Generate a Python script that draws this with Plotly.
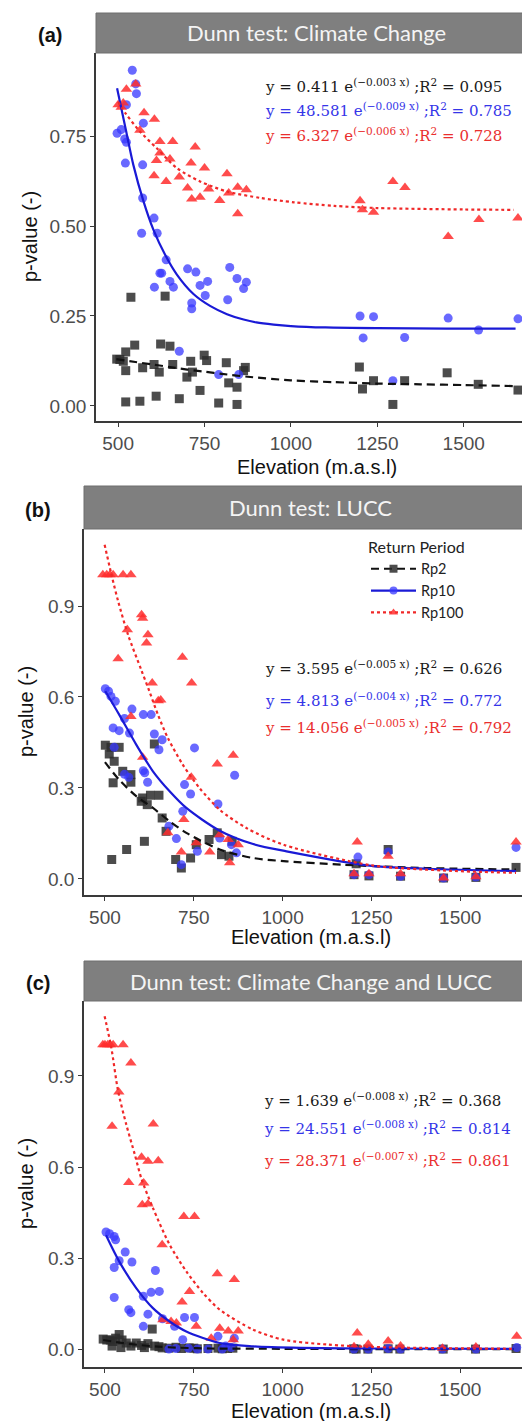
import plotly.graph_objects as go

W, H = 530, 1421

# ---------------- DATA ----------------
x_ticks = [500, 750, 1000, 1250, 1500]
x_tick_text = ["500", "750", "1000", "1250", "1500"]
y_ticks_a = [0, 0.25, 0.5, 0.75]
y_tick_text_a = ["0.00", "0.25", "0.50", "0.75"]
y_ticks_bc = [0, 0.3, 0.6, 0.9]
y_tick_text_bc = ["0.0", "0.3", "0.6", "0.9"]

panel_titles = ["Dunn test: Climate Change", "Dunn test: LUCC", "Dunn test: Climate Change and LUCC"]
panel_labels = ["(a)", "(b)", "(c)"]
series_names = ["Rp2", "Rp10", "Rp100"]

eq_a = ["y = 0.411 e<sup>(\u22120.003 x)</sup> ;R<sup>2</sup> = 0.095",
        "y = 48.581 e<sup>(\u22120.009 x)</sup> ;R<sup>2</sup> = 0.785",
        "y = 6.327 e<sup>(\u22120.006 x)</sup> ;R<sup>2</sup> = 0.728"]
eq_b = ["y = 3.595 e<sup>(\u22120.005 x)</sup> ;R<sup>2</sup> = 0.626",
        "y = 4.813 e<sup>(\u22120.004 x)</sup> ;R<sup>2</sup> = 0.772",
        "y = 14.056 e<sup>(\u22120.005 x)</sup> ;R<sup>2</sup> = 0.792"]
eq_c = ["y = 1.639 e<sup>(\u22120.008 x)</sup> ;R<sup>2</sup> = 0.368",
        "y = 24.551 e<sup>(\u22120.008 x)</sup> ;R<sup>2</sup> = 0.814",
        "y = 28.371 e<sup>(\u22120.007 x)</sup> ;R<sup>2</sup> = 0.861"]

# Panel (a) points
a_rp2_x = [537, 636, 548, 522, 505, 515, 496, 522, 571, 604, 619, 623, 650, 658, 710, 699, 715, 749, 756, 813,
           820, 844, 868, 863, 737, 522, 563, 610, 677, 791, 844, 1198, 1207, 1239, 1295, 1329, 1452, 1542, 1657]
a_rp2_y = [0.302, 0.305, 0.169, 0.150, 0.129, 0.124, 0.130, 0.098, 0.106, 0.115, 0.094, 0.172, 0.166, 0.115, 0.124,
           0.080, 0.094, 0.141, 0.126, 0.120, 0.064, 0.052, 0.107, 0.098, 0.043, 0.011, 0.013, 0.027, 0.020, 0.008,
           0.004, 0.108, 0.047, 0.070, 0.004, 0.070, 0.092, 0.060, 0.044]
a_rp10_x = [541, 551, 553, 524, 573, 497, 509, 519, 524, 521, 571, 571, 604, 568, 613, 639, 621, 626, 650, 660,
            605, 701, 725, 759, 737, 752, 713, 713, 823, 844, 871, 863, 817, 677, 791, 849, 1200, 1209, 1239, 1329,
            1295, 1455, 1543, 1657]
a_rp10_y = [0.933, 0.895, 0.868, 0.837, 0.786, 0.758, 0.768, 0.742, 0.733, 0.675, 0.670, 0.578, 0.522, 0.480, 0.480,
            0.406, 0.369, 0.369, 0.346, 0.330, 0.330, 0.381, 0.372, 0.346, 0.335, 0.307, 0.286, 0.270, 0.385, 0.354,
            0.344, 0.326, 0.295, 0.152, 0.087, 0.087, 0.250, 0.189, 0.248, 0.190, 0.070, 0.244, 0.211, 0.242]
a_rp100_x = [551, 524, 500, 515, 509, 575, 605, 563, 621, 658, 723, 621, 611, 650, 711, 750, 815, 604, 639, 677,
             701, 762, 737, 713, 794, 820, 846, 871, 846, 1200, 1207, 1239, 1295, 1330, 1455, 1544, 1657]
a_rp100_y = [0.895, 0.880, 0.837, 0.842, 0.830, 0.815, 0.797, 0.766, 0.735, 0.735, 0.720, 0.703, 0.682, 0.686, 0.675,
             0.661, 0.645, 0.640, 0.624, 0.636, 0.606, 0.603, 0.580, 0.575, 0.571, 0.592, 0.608, 0.601, 0.534, 0.570,
             0.545, 0.538, 0.624, 0.607, 0.471, 0.518, 0.522]

# Panel (a) fitted curves
a_fit2_x = [495, 550, 600, 650, 700, 750, 800, 875, 1000, 1125, 1250, 1375, 1500, 1650]
a_fit2_y = [0.130, 0.122, 0.115, 0.108, 0.101, 0.095, 0.089, 0.081, 0.071, 0.066, 0.062, 0.060, 0.058, 0.055]
a_fit10_x = [497, 524, 544, 573, 602, 636, 670, 718, 766, 815, 863, 900, 950, 1000, 1100, 1250, 1450, 1650]
a_fit10_y = [0.883, 0.760, 0.670, 0.570, 0.490, 0.420, 0.365, 0.311, 0.278, 0.255, 0.240, 0.232, 0.226, 0.222,
             0.218, 0.216, 0.215, 0.215]
a_fit100_x = [500, 524, 563, 611, 670, 737, 815, 912, 1009, 1125, 1250, 1500, 1645]
a_fit100_y = [0.845, 0.810, 0.763, 0.717, 0.661, 0.624, 0.596, 0.578, 0.566, 0.556, 0.550, 0.546, 0.545]

# Panel (b) points
b_rp2_x = [501, 517, 540, 512, 526, 550, 573, 573, 523, 639, 628, 652, 606, 602, 619, 661, 672, 611, 561, 519,
           699, 715, 741, 757, 793, 816, 828, 849, 858, 1201, 1207, 1243, 1297, 1332, 1453, 1544, 1657]
b_rp2_y = [0.441, 0.434, 0.434, 0.412, 0.388, 0.355, 0.344, 0.319, 0.317, 0.445, 0.276, 0.276, 0.267, 0.256, 0.245,
           0.201, 0.157, 0.124, 0.097, 0.064, 0.064, 0.036, 0.069, 0.113, 0.130, 0.152, 0.080, 0.075, 0.124, 0.014,
           0.050, 0.010, 0.097, 0.009, 0.003, 0.005, 0.038]
b_rp10_x = [501, 510, 517, 529, 576, 555, 608, 630, 523, 540, 569, 639, 661, 652, 526, 752, 608, 612, 620, 865,
            724, 741, 818, 719, 680, 701, 760, 823, 856, 870, 715, 555, 567, 1201, 1212, 1243, 1297, 1332, 1453,
            1544, 1657]
b_rp10_y = [0.627, 0.619, 0.602, 0.586, 0.560, 0.529, 0.542, 0.542, 0.498, 0.489, 0.481, 0.478, 0.459, 0.426, 0.434,
            0.432, 0.357, 0.350, 0.319, 0.342, 0.311, 0.280, 0.247, 0.223, 0.174, 0.133, 0.091, 0.135, 0.113, 0.086,
            0.047, 0.345, 0.335, 0.014, 0.072, 0.014, 0.089, 0.009, 0.003, 0.006, 0.104]
b_rp100_x = [494, 505, 514, 523, 551, 573, 603, 606, 621, 617, 563, 537, 718, 744, 633, 650, 657, 573, 606, 861,
             816, 743, 722, 677, 757, 715, 795, 823, 847, 875, 851, 1201, 1210, 1243, 1297, 1332, 1453, 1544, 1657]
b_rp100_y = [1.003, 1.003, 1.003, 1.003, 1.003, 1.003, 0.871, 0.860, 0.805, 0.778, 0.822, 0.726, 0.731, 0.646, 0.646,
             0.588, 0.590, 0.536, 0.401, 0.408, 0.379, 0.335, 0.196, 0.152, 0.119, 0.089, 0.089, 0.146, 0.130, 0.113,
             0.053, 0.017, 0.122, 0.017, 0.075, 0.017, 0.003, 0.007, 0.122]

b_fit2_x = [500, 540, 588, 635, 682, 729, 823, 917, 1011, 1168, 1403, 1657]
b_fit2_y = [0.385, 0.327, 0.273, 0.234, 0.190, 0.152, 0.097, 0.069, 0.058, 0.047, 0.036, 0.031]
b_fit10_x = [501, 540, 588, 635, 682, 729, 823, 917, 1011, 1250, 1450, 1657]
b_fit10_y = [0.619, 0.542, 0.443, 0.355, 0.289, 0.234, 0.159, 0.115, 0.091, 0.043, 0.032, 0.026]
b_fit100_x = [499, 518, 537, 565, 602, 625, 649, 677, 719, 766, 823, 898, 1002, 1250, 1450, 1657]
b_fit100_y = [1.102, 1.005, 0.916, 0.805, 0.690, 0.619, 0.542, 0.465, 0.377, 0.300, 0.228, 0.168, 0.113, 0.045, 0.028, 0.020]

# Panel (c) points
c_rp2_x = [495, 505, 515, 520, 522, 530, 540, 545, 548, 560, 573, 588, 603, 611, 621, 633, 640, 652, 661, 680,
           700, 715, 737, 750, 760, 790, 818, 830, 845, 860, 1200, 1207, 1240, 1297, 1330, 1452, 1543, 1657]
c_rp2_y = [0.033, 0.030, 0.030, 0.010, 0.025, 0.036, 0.048, 0.005, 0.030, 0.020, 0.010, 0.020, 0.012, 0.005, 0.018,
           0.066, 0.010, 0.008, 0.004, 0.003, 0.006, 0.002, 0.004, 0.003, 0.001, 0.002, 0.003, 0.001, 0.002, 0.003,
           0.001, 0.000, 0.000, 0.001, 0.000, 0.000, 0.000, 0.002]
c_rp10_x = [503, 513, 526, 530, 557, 540, 526, 576, 642, 526, 608, 630, 653, 567, 573, 621, 608, 662, 724, 752,
            696, 818, 864, 719, 680, 700, 735, 760, 790, 830, 840, 855, 1201, 1241, 1297, 1332, 1450, 1544, 1659]
c_rp10_y = [0.386, 0.380, 0.371, 0.360, 0.320, 0.291, 0.269, 0.287, 0.259, 0.170, 0.174, 0.187, 0.190, 0.130, 0.120,
            0.115, 0.075, 0.100, 0.104, 0.104, 0.075, 0.042, 0.036, 0.031, 0.000, 0.002, 0.003, 0.000, 0.000, 0.000,
            0.010, 0.005, 0.000, 0.000, 0.002, 0.000, 0.000, 0.000, 0.005]
c_rp100_x = [494, 500, 508, 515, 523, 551, 573, 539, 520, 636, 603, 621, 650, 567, 609, 605, 621, 722, 752, 661,
             816, 864, 738, 717, 663, 701, 686, 757, 823, 847, 875, 799, 861, 1201, 1210, 1241, 1297, 1332, 1450,
             1544, 1659]
c_rp100_y = [1.003, 1.003, 1.003, 1.003, 1.003, 1.003, 0.943, 0.847, 0.734, 0.742, 0.632, 0.619, 0.621, 0.549, 0.547,
             0.476, 0.478, 0.437, 0.437, 0.344, 0.248, 0.229, 0.190, 0.155, 0.097, 0.086, 0.091, 0.075, 0.069, 0.060,
             0.060, 0.036, 0.031, 0.008, 0.053, 0.016, 0.027, 0.010, 0.003, 0.007, 0.042]

c_fit2_x = [495, 550, 600, 650, 700, 800, 1000, 1250, 1650]
c_fit2_y = [0.030, 0.020, 0.013, 0.008, 0.005, 0.002, 0.001, 0.000, 0.000]
c_fit10_x = [503, 540, 588, 635, 682, 729, 823, 917, 1050, 1250, 1650]
c_fit10_y = [0.375, 0.289, 0.201, 0.135, 0.091, 0.058, 0.020, 0.009, 0.004, 0.002, 0.001]
c_fit100_x = [499, 518, 537, 560, 584, 603, 635, 682, 729, 776, 823, 917, 1002, 1125, 1250, 1450, 1650]
c_fit100_y = [1.097, 0.992, 0.850, 0.740, 0.641, 0.560, 0.465, 0.344, 0.256, 0.185, 0.130, 0.064, 0.031, 0.015,
              0.007, 0.003, 0.001]

# ---------------- STYLE ----------------
pt_colors = ["rgba(45,45,45,0.85)", "rgba(55,55,255,0.75)", "rgba(255,45,45,0.85)"]
line_colors = ["#111111", "#1a1ad6", "#f02828"]
line_dash = ["8px,5px", "solid", "3px,3px"]
symbols = ["square", "circle", "triangle-up"]
sizes = [9, 9, 10]
eq_colors = ["#1a1a1a", "#3535e8", "#ea2e2e"]

def px_x(p):
    return p / W

def px_y(p):
    return 1 - p / H

panels = [
    dict(pts=[(a_rp2_x, a_rp2_y), (a_rp10_x, a_rp10_y), (a_rp100_x, a_rp100_y)],
         fits=[(a_fit2_x, a_fit2_y), (a_fit10_x, a_fit10_y), (a_fit100_x, a_fit100_y)],
         eq=eq_a, left=88, top=45, bottom=413, strip_top=5, xr=[436, 1712], yr=[-0.042, 0.981],
         yt=y_ticks_a, ytt=y_tick_text_a, eq_y=[78, 102, 127], eq_x=255, lab_x=42, ytitle_x=22, xtitle_y=459),
    dict(pts=[(b_rp2_x, b_rp2_y), (b_rp10_x, b_rp10_y), (b_rp100_x, b_rp100_y)],
         fits=[(b_fit2_x, b_fit2_y), (b_fit10_x, b_fit10_y), (b_fit100_x, b_fit100_y)],
         eq=eq_b, left=76, top=521, bottom=887, strip_top=478, xr=[441, 1716], yr=[-0.053, 1.154],
         yt=y_ticks_bc, ytt=y_tick_text_bc, eq_y=[660, 692, 719], eq_x=255, lab_x=30, ytitle_x=18, xtitle_y=929),
    dict(pts=[(c_rp2_x, c_rp2_y), (c_rp10_x, c_rp10_y), (c_rp100_x, c_rp100_y)],
         fits=[(c_fit2_x, c_fit2_y), (c_fit10_x, c_fit10_y), (c_fit100_x, c_fit100_y)],
         eq=eq_c, left=76, top=993, bottom=1359, strip_top=953, xr=[441, 1716], yr=[-0.059, 1.147],
         yt=y_ticks_bc, ytt=y_tick_text_bc, eq_y=[1092, 1120, 1152], eq_x=254, lab_x=30, ytitle_x=18, xtitle_y=1403),
]

RIGHT = 529
fig = go.Figure()
shapes = []
annotations = []
layout_axes = {}

for i, p in enumerate(panels):
    k = "" if i == 0 else str(i + 1)
    xa, ya = "x" + k, "y" + k
    for s in range(3):
        xs, ys = p["pts"][s]
        fig.add_trace(go.Scatter(x=xs, y=ys, mode="markers", xaxis=xa, yaxis=ya, showlegend=False,
                                 marker=dict(symbol=symbols[s], size=sizes[s], color=pt_colors[s],
                                             line=dict(width=0)),
                                 hoverinfo="skip"))
    for s in range(3):
        fx, fy = p["fits"][s]
        fig.add_trace(go.Scatter(x=fx, y=fy, mode="lines", xaxis=xa, yaxis=ya, showlegend=False,
                                 line=dict(color=line_colors[s], width=2.2, dash=line_dash[s],
                                           shape="spline", smoothing=0.8),
                                 hoverinfo="skip"))
    axis_common = dict(showgrid=False, zeroline=False, showline=True, linecolor="#3a3a3a", linewidth=1.6,
                       ticks="outside", ticklen=4, tickwidth=1.4, tickcolor="#3a3a3a",
                       tickfont=dict(family="Liberation Sans, Arial", size=19, color="#4d4d4d"), mirror=False)
    layout_axes["xaxis" + k] = dict(axis_common, domain=[px_x(p["left"]), px_x(RIGHT)], range=p["xr"],
                                    tickvals=x_ticks, ticktext=x_tick_text, anchor=ya)
    layout_axes["yaxis" + k] = dict(axis_common, domain=[px_y(p["bottom"]), px_y(p["top"])], range=p["yr"],
                                    tickvals=p["yt"], ticktext=p["ytt"], anchor=xa)
    # strip
    shapes.append(dict(type="rect", xref="paper", yref="paper", x0=px_x(p["left"]), x1=px_x(RIGHT),
                       y0=px_y(p["top"]), y1=px_y(p["strip_top"]), fillcolor="#7f7f7f",
                       line=dict(color="#6e6e6e", width=1), layer="above"))
    annotations.append(dict(xref="paper", yref="paper", x=px_x((p["left"] + RIGHT) / 2),
                            y=px_y((p["top"] + p["strip_top"]) / 2), text=panel_titles[i], showarrow=False,
                            xanchor="center", yanchor="middle",
                            font=dict(family="Lato, Open Sans", size=22, color="#f4f4f4")))
    # panel label
    annotations.append(dict(xref="paper", yref="paper", x=px_x(p["lab_x"]),
                            y=px_y((p["top"] + p["strip_top"]) / 2 + 2), text="<b>" + panel_labels[i] + "</b>",
                            showarrow=False, xanchor="center", yanchor="middle",
                            font=dict(family="Liberation Sans, Arial", size=20, color="#111111")))
    # axis titles
    annotations.append(dict(xref="paper", yref="paper", x=px_x(p["ytitle_x"]),
                            y=px_y((p["top"] + p["bottom"]) / 2), text="p-value (-)", textangle=-90,
                            showarrow=False, xanchor="center", yanchor="middle",
                            font=dict(family="Liberation Sans, Arial", size=20, color="#111111")))
    annotations.append(dict(xref="paper", yref="paper", x=px_x((p["left"] + RIGHT) / 2),
                            y=px_y(p["xtitle_y"]), text="Elevation (m.a.s.l)",
                            showarrow=False, xanchor="center", yanchor="middle",
                            font=dict(family="Liberation Sans, Arial", size=20, color="#111111")))
    # equations
    for s in range(3):
        annotations.append(dict(xref="paper", yref="paper", x=px_x(p["eq_x"]), y=px_y(p["eq_y"][s]),
                                text=p["eq"][s], showarrow=False, xanchor="left", yanchor="middle",
                                font=dict(family="DejaVu Serif", size=15, color=eq_colors[s])))

# legend entries (panel b)
for s in range(3):
    fig.add_trace(go.Scatter(x=[None], y=[None], mode="lines+markers", name=series_names[s],
                             xaxis="x2", yaxis="y2", showlegend=True,
                             line=dict(color=line_colors[s], width=2.2, dash=line_dash[s]),
                             marker=dict(symbol=symbols[s], size=8, color=pt_colors[s])))

fig.update_layout(
    width=W, height=H, margin=dict(l=0, r=0, t=0, b=0),
    paper_bgcolor="white", plot_bgcolor="white",
    shapes=shapes, annotations=annotations,
    legend=dict(x=px_x(358), y=px_y(524), xanchor="left", yanchor="top",
                title=dict(text="Return Period", font=dict(family="Lato, Open Sans", size=16, color="#222")),
                font=dict(family="Lato, Open Sans", size=14.5, color="#222"),
                bgcolor="rgba(0,0,0,0)", tracegroupgap=0, itemwidth=45),
    **layout_axes,
)

fig.write_html("out.html")
